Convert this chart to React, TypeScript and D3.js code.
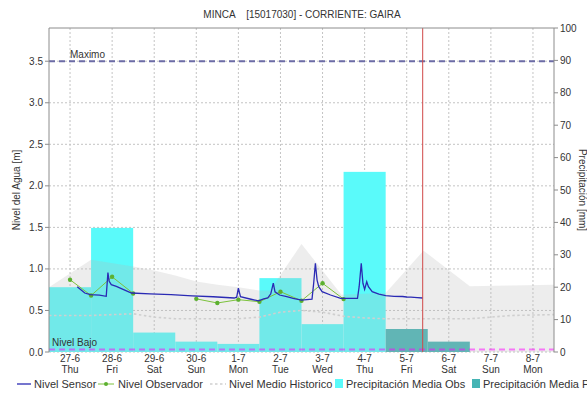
import * as d3 from 'd3';

// days shown on the x axis (bars are centred on each day)
const days = ['27-6', '28-6', '29-6', '30-6', '1-7', '2-7', '3-7', '4-7', '5-7', '6-7', '7-7', '8-7'];
const weekdays = ['Thu', 'Fri', 'Sat', 'Sun', 'Mon', 'Tue', 'Wed', 'Thu', 'Fri', 'Sat', 'Sun', 'Mon'];

// precipitation [mm] per day
const precipObs = [20, 38.3, 6, 3.2, 2.5, 22.8, 8.6, 55.6, 0, 0, 0, 0];
const precipPro = [0, 0, 0, 0, 0, 0, 0, 0, 7.1, 3.2, 0, 0];

// sensor level [m], t = days since 27-6 00:00
const sensorT = [0.67, 0.85, 0.98, 1.2, 1.36, 1.4, 1.43, 1.48, 1.6, 1.8, 1.96, 2.4, 2.9, 3.4, 3.9, 4.4, 4.46, 4.5, 4.55, 4.8, 4.98, 5.1, 5.2, 5.27, 5.33, 5.37, 5.48, 5.65, 5.8, 6.0, 6.25, 6.29, 6.33, 6.37, 6.41, 6.49, 6.69, 6.93, 7.33, 7.37, 7.42, 7.46, 7.5, 7.55, 7.59, 7.68, 7.84, 8.0, 8.2, 8.4, 8.5, 8.6, 8.75, 8.88];
const sensorLevel = [0.785, 0.71, 0.69, 0.685, 0.67, 0.955, 0.85, 0.81, 0.79, 0.745, 0.71, 0.7, 0.69, 0.675, 0.665, 0.65, 0.66, 0.77, 0.665, 0.635, 0.615, 0.64, 0.65, 0.7, 0.83, 0.725, 0.686, 0.666, 0.646, 0.625, 0.637, 0.83, 1.067, 0.866, 0.786, 0.726, 0.686, 0.646, 0.646, 0.786, 1.067, 0.827, 0.754, 0.846, 0.786, 0.726, 0.698, 0.678, 0.67, 0.668, 0.662, 0.66, 0.655, 0.65];

// observer readings (null = no reading, breaks the line)
const observerT = [0.5, 1, 1.5, 2, 2.75, 3.5, 4, 4.5, 5, 5.5, 6, 6.5, 7];
const observerLevel: (number | null)[] = [0.87, 0.68, 0.905, 0.705, null, 0.64, 0.59, 0.63, 0.605, 0.726, 0.617, 0.827, 0.637];

// historic mean level (dotted) and historic band (grey area)
const histMeanT = [0, 1, 2, 2.5, 3, 4, 4.5, 5, 5.5, 6, 6.5, 7, 7.5, 8, 9, 10, 10.5, 11, 12];
const histMean = [0.44, 0.44, 0.46, 0.42, 0.4, 0.4, 0.4, 0.42, 0.48, 0.5, 0.48, 0.43, 0.41, 0.4, 0.4, 0.4, 0.42, 0.44, 0.45];
const histMaxT = [0, 1, 2, 2.5, 3, 3.5, 4, 4.5, 5, 5.25, 6, 6.95, 7.5, 8, 8.9, 10, 11, 12];
const histMax = [0.78, 1.11, 1.03, 0.98, 0.92, 0.85, 0.81, 0.78, 0.74, 0.74, 1.3, 0.69, 0.7, 0.71, 1.22, 0.79, 0.8, 0.81];

const levelTicks = [0, 0.5, 1, 1.5, 2, 2.5, 3, 3.5];
const precipTicks = [0, 10, 20, 30, 40, 50, 60, 70, 80, 90, 100];
const levelMaximo = 3.5;
const levelBajo = 0.03;
const nowT = 8.88;

const W = 587;
const H = 402;
const margin = { top: 28, right: 33, bottom: 50, left: 49 };
const font = '"Liberation Sans", Arial, sans-serif';

export default function App() {
  const innerW = W - margin.left - margin.right;
  const innerH = H - margin.top - margin.bottom;
  const x0 = margin.left;
  const x1 = margin.left + innerW;
  const y1 = margin.top + innerH;

  const xBand = d3.scaleBand().domain(days).range([x0, x1]).padding(0);
  const xT = d3.scaleLinear().domain([0, days.length]).range([x0, x1]);
  const yL = d3.scaleLinear().domain([0, 3.9]).range([y1, margin.top]);
  const yR = d3.scaleLinear().domain([0, 100]).range([y1, margin.top]);

  const sensorPath = d3.line<number>().x((_, i) => xT(sensorT[i])).y(d => yL(d))(sensorLevel) ?? '';
  const observerPath = d3.line<number | null>()
    .defined(d => d != null)
    .x((_, i) => xT(observerT[i]))
    .y(d => yL(d as number))(observerLevel) ?? '';
  const meanPath = d3.line<number>().x((_, i) => xT(histMeanT[i])).y(d => yL(d))(histMean) ?? '';
  const areaPath = d3.area<number>().x((_, i) => xT(histMaxT[i])).y0(y1).y1(d => yL(d))(histMax) ?? '';

  const cx = (d: string) => (xBand(d) ?? 0) + xBand.bandwidth() / 2;
  const grid = '#c4c4c4';
  const axisCol = '#8c8c8c';
  const txt = '#333';

  const legendY = 388;

  return (
    <div style={{ position: 'absolute', left: 0, top: 0 }}>
      <svg width={W} height={H} style={{ display: 'block', fontFamily: font }}>
        <rect width={W} height={H} fill="#fff" />
        <text x={302} y={18} textAnchor="middle" fontSize={10} fill={txt} style={{ whiteSpace: 'pre' }}>
          {'MINCA    [15017030] - CORRIENTE: GAIRA'}
        </text>

        {/* grid */}
        {days.map(d => (
          <line key={d} x1={cx(d)} x2={cx(d)} y1={margin.top} y2={y1} stroke={grid} strokeDasharray="2,2" />
        ))}
        {levelTicks.map(v => (
          <line key={v} x1={x0} x2={x1} y1={yL(v)} y2={yL(v)} stroke={grid} strokeDasharray="2,2" />
        ))}

        {/* precipitation bars */}
        {days.map((d, i) => (
          <rect key={'o' + d} x={xBand(d)} width={xBand.bandwidth()} y={yR(precipObs[i])}
            height={y1 - yR(precipObs[i])} fill="#5afafa" />
        ))}
        {days.map((d, i) => (
          <rect key={'p' + d} x={xBand(d)} width={xBand.bandwidth()} y={yR(precipPro[i])}
            height={y1 - yR(precipPro[i])} fill="#45b4b4" />
        ))}

        {/* historic band */}
        <path d={areaPath} fill="rgb(185,185,185)" fillOpacity={0.25} />
        <path d={meanPath} fill="none" stroke="#cfcfcf" strokeWidth={1.6} strokeDasharray="2.5,2.5" />

        {/* levels */}
        <path d={observerPath} fill="none" stroke="#7cc23c" strokeWidth={1} />
        {observerLevel.map((v, i) => v == null ? null : (
          <circle key={i} cx={xT(observerT[i])} cy={yL(v)} r={2.2} fill="#5cb030" />
        ))}
        <path d={sensorPath} fill="none" stroke="#2a2ab4" strokeWidth={1.3} />

        {/* reference lines */}
        <line x1={x0} x2={x1} y1={yL(levelMaximo)} y2={yL(levelMaximo)} stroke="#6c6ca6" strokeWidth={2} strokeDasharray="6,4" />
        <text x={70} y={yL(levelMaximo) - 3} fontSize={10} fill={txt}>Maximo</text>
        <line x1={x0} x2={x1} y1={yL(levelBajo)} y2={yL(levelBajo)} stroke="#ff00ff" strokeOpacity={0.5} strokeWidth={2} strokeDasharray="6,4" />
        <text x={52} y={yL(levelBajo) - 4} fontSize={10} fill={txt}>Nivel Bajo</text>

        <line x1={xT(nowT)} x2={xT(nowT)} y1={margin.top} y2={y1} stroke="#d04848" strokeWidth={1} />

        {/* frame / axes */}
        <line x1={x0} x2={x1} y1={margin.top} y2={margin.top} stroke={axisCol} />
        <line x1={x0} x2={x0} y1={margin.top} y2={y1} stroke={axisCol} />
        <line x1={x1} x2={x1} y1={margin.top} y2={y1} stroke={axisCol} />
        {levelTicks.map(v => (
          <g key={v}>
            <line x1={x0 - 4} x2={x0} y1={yL(v)} y2={yL(v)} stroke={axisCol} />
            <text x={x0 - 6} y={yL(v) + 3.5} textAnchor="end" fontSize={10} fill={txt}>{d3.format('.1f')(v)}</text>
          </g>
        ))}
        {precipTicks.map(v => (
          <g key={v}>
            <line x1={x1} x2={x1 + 4} y1={yR(v)} y2={yR(v)} stroke={axisCol} />
            <text x={x1 + 6} y={yR(v) + 3.5} fontSize={10} fill={txt}>{v}</text>
          </g>
        ))}
        {days.map((d, i) => (
          <g key={'l' + d}>
            <text x={cx(d)} y={362} textAnchor="middle" fontSize={10} fill={txt}>{d}</text>
            <text x={cx(d)} y={373} textAnchor="middle" fontSize={10} fill={txt}>{weekdays[i]}</text>
          </g>
        ))}
        <text transform={`translate(20,${(margin.top + y1) / 2}) rotate(-90)`} textAnchor="middle" fontSize={10} fill={txt}>
          Nivel del Agua [m]
        </text>
        <text transform={`translate(579,${(margin.top + y1) / 2}) rotate(90)`} textAnchor="middle" fontSize={10} fill={txt}>
          Precipitación [mm]
        </text>

        {/* legend */}
        <g fontSize={11} fill={txt}>
          <line x1={17} x2={31} y1={legendY - 4} y2={legendY - 4} stroke="#2a2ab4" strokeWidth={1.3} />
          <text x={34} y={legendY}>Nivel Sensor</text>
          <line x1={98} x2={114} y1={legendY - 4} y2={legendY - 4} stroke="#7cc23c" />
          <circle cx={106} cy={legendY - 4} r={2} fill="#5cb030" />
          <text x={118} y={legendY}>Nivel Observador</text>
          <line x1={210} x2={226} y1={legendY - 4} y2={legendY - 4} stroke="#cfcfcf" strokeWidth={1.6} strokeDasharray="2.5,2.5" />
          <text x={229} y={legendY}>Nivel Medio Historico</text>
          <rect x={335} y={legendY - 9} width={8} height={9} fill="#5afafa" />
          <text x={346} y={legendY}>Precipitación Media Obs</text>
          <rect x={472} y={legendY - 9} width={8} height={9} fill="#45b4b4" />
          <text x={483} y={legendY}>Precipitación Media Pro</text>
        </g>
      </svg>
    </div>
  );
}
